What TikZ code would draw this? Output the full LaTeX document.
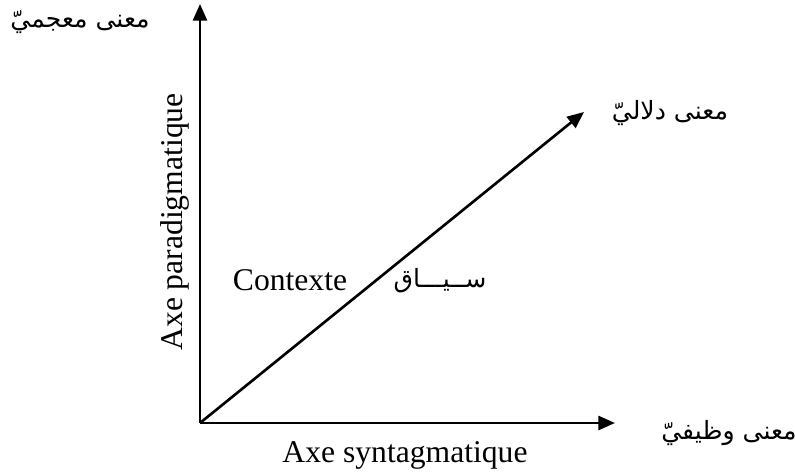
\documentclass[tikz,border=0pt]{standalone}
\usepackage{fontspec}
\setmainfont{Liberation Serif}
\newfontfamily\arabicfont[Script=Arabic]{DejaVu Sans}
\TeXXeTstate=1
\usetikzlibrary{arrows.meta}
\tikzset{
  eje/.style={line width=1.5pt, -{Triangle[length=9.5pt,width=8pt]}},
  etiq/.style={font=\fontsize{18}{20}\selectfont, inner sep=0pt},
  arab/.style={font=\fontsize{14.3}{17}\arabicfont, inner sep=0pt}
}
\begin{document}
\begin{tikzpicture}[x=0.02cm, y=-0.02cm]
  \useasboundingbox (0,0) rectangle (795,475);
  % Origen y extremos de los ejes
  \coordinate (O) at (200,423);
  \coordinate (Y) at (200,4);
  \coordinate (X) at (615,423);
  \coordinate (D) at (584,112);

  % Ejes
  \draw[eje] (O) -- (Y);
  \draw[eje] (O) -- (X);
  \draw[eje] (O) -- (D);

  % Etiquetas arabes
  \node[arab] (lexico) at (80,22) {\beginR معنى معجميّ\endR};
  \node[arab] (semantico) at (670,113) {\beginR معنى دلاليّ\endR};
  \node[arab] (funcional) at (729,433) {\beginR معنى وظيفيّ\endR};
  \node[arab] (siyaq) at (440,281) {\beginR ســيـــاق\endR};

  % Etiquetas francesas
  \node[etiq] (contexte) at (290,280) {Contexte};
  \node[etiq] (synt) at (405,455) {Axe syntagmatique};
  \node[etiq, rotate=90] (parad) at (175,222) {Axe paradigmatique};
\end{tikzpicture}
\end{document}
